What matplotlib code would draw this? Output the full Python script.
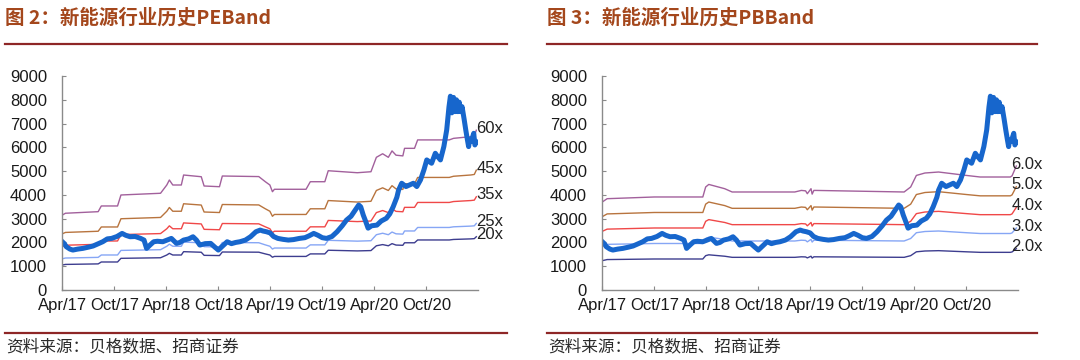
import pandas as pd
import matplotlib
matplotlib.use("Agg")
import matplotlib.pyplot as plt
import matplotlib.dates as mdates
from matplotlib.lines import Line2D

plt.rcParams['font.family'] = ['Liberation Sans', 'Noto Sans CJK SC', 'DejaVu Sans']

# new energy industry index
idx_dates = ['2017-04-01', '2017-04-08', '2017-04-15', '2017-04-28', '2017-05-08', '2017-05-25',
             '2017-06-12', '2017-07-01', '2017-07-18', '2017-08-06', '2017-08-21', '2017-09-06',
             '2017-09-21', '2017-10-10', '2017-10-28', '2017-11-10', '2017-11-25', '2017-12-13',
             '2018-01-01', '2018-01-13', '2018-01-22', '2018-02-04', '2018-02-16', '2018-03-01',
             '2018-03-20', '2018-04-04', '2018-04-19', '2018-05-07', '2018-05-19', '2018-06-01',
             '2018-06-19', '2018-07-04', '2018-07-16', '2018-07-28', '2018-08-16', '2018-09-04',
             '2018-09-19', '2018-10-01', '2018-10-16', '2018-11-01', '2018-11-16', '2018-12-01',
             '2018-12-16', '2019-01-04', '2019-01-22', '2019-02-10', '2019-02-25', '2019-03-07',
             '2019-03-19', '2019-04-01', '2019-04-13', '2019-04-28', '2019-05-16', '2019-06-04',
             '2019-06-22', '2019-07-13', '2019-08-01', '2019-08-16', '2019-09-01', '2019-09-16',
             '2019-10-01', '2019-10-16', '2019-11-04', '2019-11-22', '2019-12-10', '2019-12-25',
             '2020-01-10', '2020-01-25', '2020-02-06', '2020-02-13', '2020-02-22', '2020-03-01',
             '2020-03-10', '2020-03-22', '2020-04-10', '2020-04-25', '2020-05-13', '2020-05-25',
             '2020-06-06', '2020-06-19', '2020-06-25', '2020-07-06', '2020-07-21', '2020-08-03',
             '2020-08-16', '2020-08-28', '2020-09-10', '2020-09-22', '2020-10-02', '2020-10-19',
             '2020-11-01', '2020-11-10', '2020-11-19', '2020-12-01', '2020-12-11', '2020-12-19',
             '2020-12-24', '2020-12-29', '2021-01-04', '2021-01-09', '2021-01-14', '2021-01-19',
             '2021-01-24', '2021-01-29', '2021-02-03', '2021-02-10', '2021-02-16', '2021-02-22',
             '2021-02-26', '2021-03-01', '2021-03-07', '2021-03-16', '2021-03-20', '2021-03-25']
idx_values = [2030, 1950, 1820, 1720, 1680, 1720,
              1750, 1800, 1850, 1950, 2030, 2150,
              2170, 2250, 2380, 2300, 2240, 2250,
              2170, 2100, 1750, 1900, 2030, 2050,
              2030, 2100, 2170, 1960, 2000, 2100,
              2150, 2240, 2100, 1890, 1950, 1960,
              1800, 1680, 1850, 2030, 1950, 2000,
              2030, 2100, 2240, 2450, 2520, 2480,
              2450, 2400, 2250, 2170, 2130, 2100,
              2120, 2170, 2200, 2280, 2380, 2300,
              2200, 2170, 2250, 2450, 2700, 2940,
              3100, 3365, 3575, 3500, 3150, 2900,
              2600, 2700, 2730, 2900, 3015, 3200,
              3500, 3900, 4200, 4490, 4350, 4420,
              4490, 4350, 4630, 5050, 5470, 5330,
              5750, 5600, 5470, 6030, 6730, 7700,
              8150, 7450, 8100, 7500, 8000, 7500,
              7900, 7500, 7710, 7200, 6730, 6300,
              6030, 6300, 6240, 6590, 6100, 6240]

# earnings per index point behind the PE bands
eps_dates = ['2017-04-01', '2017-04-12', '2017-08-05', '2017-08-16', '2017-10-12', '2017-10-24',
             '2018-03-12', '2018-04-03', '2018-04-12', '2018-04-24', '2018-05-24', '2018-06-01',
             '2018-08-02', '2018-08-12', '2018-10-05', '2018-10-15', '2019-02-20', '2019-03-15',
             '2019-03-31', '2019-04-09', '2019-04-16', '2019-08-05', '2019-08-20', '2019-10-10',
             '2019-10-22', '2020-02-01', '2020-03-20', '2020-04-08', '2020-04-30', '2020-05-20',
             '2020-06-02', '2020-06-16', '2020-07-10', '2020-07-16', '2020-08-20', '2020-08-31',
             '2020-12-20', '2021-01-04', '2021-03-06', '2021-03-18', '2021-03-25']
eps_values = [52.5, 53.8, 54.9, 58.9, 58.9, 66.6,
              67.8, 73.6, 77.1, 73.6, 73.6, 80.6,
              79.4, 72.9, 72.4, 79.9, 79.5, 75.9,
              73.6, 68.9, 70.6, 70.6, 75.9, 75.9,
              83.6, 82.2, 82.9, 93.0, 95.5, 93.0,
              97.5, 94.5, 94.0, 99.3, 99.3, 105.2,
              105.2, 106.3, 107.5, 108.0, 112.0]

# book value per index point behind the PB bands
bps_dates = ['2017-04-01', '2017-04-18', '2017-10-01', '2018-03-20', '2018-03-30', '2018-04-10',
             '2018-06-05', '2018-07-01', '2019-02-06', '2019-03-01', '2019-03-16', '2019-03-22',
             '2019-04-04', '2019-04-08', '2019-04-14', '2019-04-20', '2020-02-25', '2020-03-19',
             '2020-04-08', '2020-05-08', '2020-06-25', '2020-10-01', '2020-11-18', '2021-03-04',
             '2021-03-10', '2021-03-25']
bps_values = [617, 640, 652, 652, 722, 740,
              710, 687, 687, 698, 695, 675,
              710, 672, 698, 698, 687, 722,
              803, 820, 827, 803, 792, 792,
              800, 869]

pe_multiples = [20, 25, 35, 45, 60]
pe_labels = ['20x', '25x', '35x', '45x', '60x']
pb_multiples = [2.0, 3.0, 4.0, 5.0, 6.0]
pb_labels = ['2.0x', '3.0x', '4.0x', '5.0x', '6.0x']
band_colors = ['#3d3d8f', '#86a6f5', '#f04848', '#b8743e', '#a2609c']

titles = ['图 2：新能源行业历史PEBand', '图 3：新能源行业历史PBBand']
source = '资料来源：贝格数据、招商证券'
tick_dates = ['2017-04-01', '2017-10-01', '2018-04-01', '2018-10-01',
              '2019-04-01', '2019-10-01', '2020-04-01', '2020-10-01']

idx = pd.Series(idx_values, index=pd.to_datetime(idx_dates))
eps = pd.Series(eps_values, index=pd.to_datetime(eps_dates))
bps = pd.Series(bps_values, index=pd.to_datetime(bps_dates))

fig = plt.figure(figsize=(10.8, 3.6), dpi=100)
W, H = 1080, 360

ax1 = fig.add_axes([62.3 / W, 70 / H, 416 / W, 214 / H])
ax2 = fig.add_axes([602.3 / W, 70 / H, 416 / W, 214 / H])

for ax, base, mults, labels, dx in [(ax1, eps, pe_multiples, pe_labels, 0),
                                    (ax2, bps, pb_multiples, pb_labels, -5)]:
    for m, lab, c in zip(mults, labels, band_colors):
        band = base * m
        ax.plot(band.index, band.values, color=c, lw=1.0)
        ax.annotate(lab, (band.index[-1], band.values[-1]), xytext=(dx, 2),
                    textcoords='offset pixels', fontsize=12, color='#222222',
                    ha='left', va='center')
    ax.plot(idx.index, idx.values, color='#1766cc', lw=3.6, solid_joinstyle='round')

    ax.set_ylim(0, 9000)
    ax.set_yticks(range(0, 9001, 1000))
    ax.set_xlim(pd.Timestamp('2017-04-01'), pd.Timestamp('2021-04-01'))
    ax.set_xticks(pd.to_datetime(tick_dates))
    ax.xaxis.set_major_formatter(mdates.DateFormatter('%b/%y'))
    for s in ['top', 'right']:
        ax.spines[s].set_visible(False)
    for s in ['left', 'bottom']:
        ax.spines[s].set_color('#8a8a8a')
        ax.spines[s].set_linewidth(1.0)
    ax.tick_params(axis='both', direction='in', length=3, color='#8a8a8a',
                   labelsize=12, labelcolor='#1a1a1a')
    ax.tick_params(axis='y', pad=11)
    ax.tick_params(axis='x', pad=6)
    ax.patch.set_alpha(0)

# header, rules and source lines
for x0, x1, t in [(5, 507, titles[0]), (547, 1037, titles[1])]:
    fig.text(x0 / W, 1 - 18 / H, t, fontsize=14, fontweight='bold', color='#a4471c',
             family=['Noto Sans CJK SC', 'DejaVu Sans'], ha='left', va='center')
    fig.add_artist(Line2D([x0 / W, x1 / W], [1 - 43.5 / H, 1 - 43.5 / H],
                          color='#8e2626', lw=1.6, transform=fig.transFigure))
    fig.add_artist(Line2D([x0 / W, x1 / W], [1 - 333 / H, 1 - 333 / H],
                          color='#8e2626', lw=1.6, transform=fig.transFigure))
    fig.text((x0 + 1) / W, 1 - 347 / H, source, fontsize=12, color='#2a2a2a',
             family=['Noto Sans CJK SC', 'DejaVu Sans'], ha='left', va='center')

fig.savefig('out.png', dpi=100)
